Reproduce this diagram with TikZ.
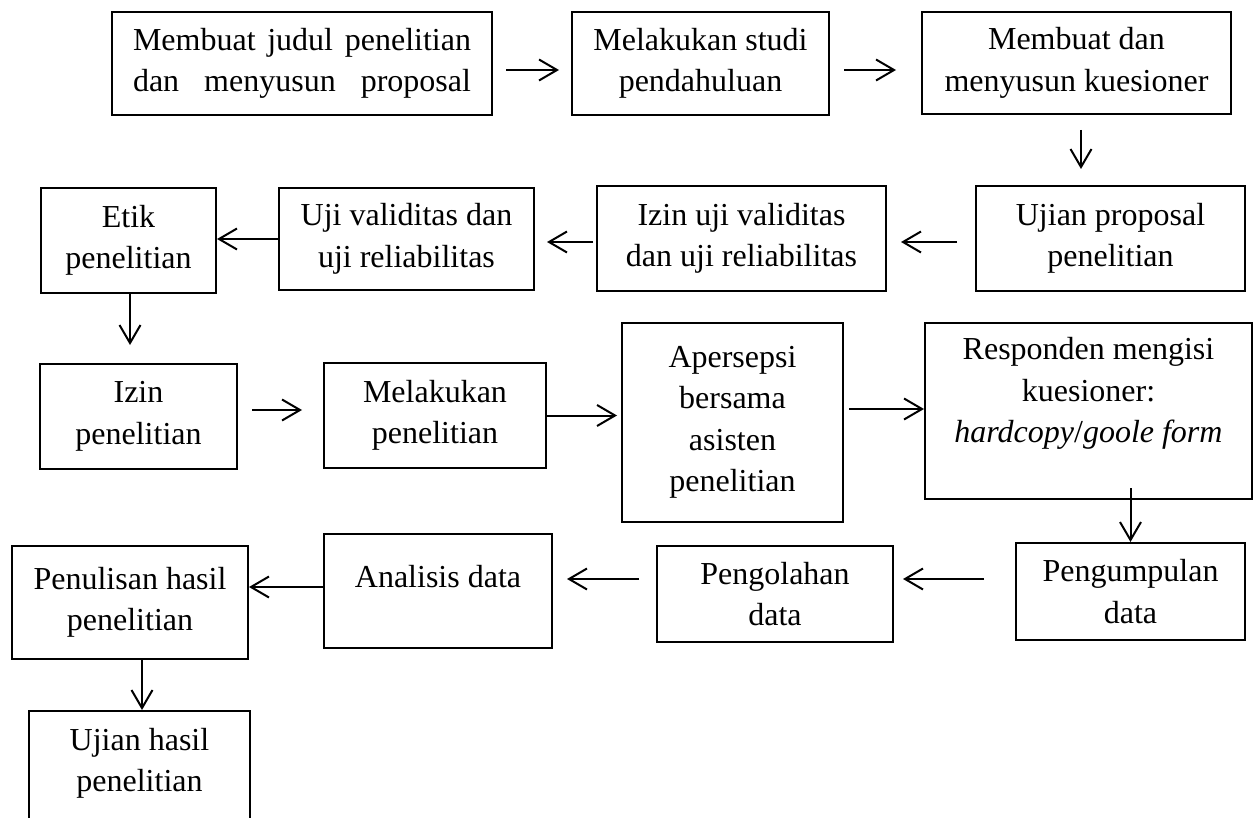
\documentclass[tikz,border=0pt]{standalone}
\usepackage{fontspec}
\setmainfont{Liberation Serif}
\usetikzlibrary{arrows.meta}

\begin{document}
\begin{tikzpicture}[x=0.5pt, y=-0.5pt, auto]
    % Define styles
    \tikzstyle{block} = [rectangle, draw, line width=1pt, inner sep=0pt, align=center, font=\fontsize{16}{20.75}\selectfont]
    \tikzstyle{arrow} = [line width=1pt, ->, >={Straight Barb[length=9pt,width=10.5pt]}]

    % Canvas
    \useasboundingbox (0,0) rectangle (1258,818);
    \clip (0,0) rectangle (1258,818);

    % Nodes
    \node [block, minimum width=190pt, minimum height=51.5pt, text width=169pt] (judul) at (302,63.5) {Membuat\hfill judul\hfill penelitian\\ dan\hfill menyusun\hfill proposal};
    \node [block, minimum width=128.5pt, minimum height=51.5pt] (studi) at (700.5,63.5) {Melakukan studi\\ pendahuluan};
    \node [block, minimum width=154.5pt, minimum height=51pt] (kuesioner) at (1076.5,63) {Membuat dan\\ menyusun kuesioner};
    \node [block, minimum width=134.5pt, minimum height=52.5pt] (ujianprop) at (1110.5,238.5) {Ujian proposal\\ penelitian};
    \node [block, minimum width=144.5pt, minimum height=52.5pt] (izinuji) at (741.5,238.5) {Izin uji validitas\\ dan uji reliabilitas};
    \node [block, minimum width=127.5pt, minimum height=51pt] (ujival) at (406.5,239) {Uji validitas dan\\ uji reliabilitas};
    \node [block, minimum width=87.5pt, minimum height=52.5pt] (etik) at (128.5,240.5) {Etik\\ penelitian};
    \node [block, minimum width=98.5pt, minimum height=52.5pt] (izin) at (138.5,416.5) {Izin\\ penelitian};
    \node [block, minimum width=111pt, minimum height=52.5pt] (lakukan) at (435,415.5) {Melakukan\\ penelitian};
    \node [block, minimum width=110.5pt, minimum height=99.5pt] (apersepsi) at (732.5,422.5) {Apersepsi\\ bersama\\ asisten\\ penelitian};
    \node [block, minimum width=163.5pt, minimum height=88pt] (responden) at (1088.5,411) {Responden mengisi\\ kuesioner:\\ \textit{hardcopy}/\textit{goole form}\\ ~};
    \node [block, minimum width=114.5pt, minimum height=48.5pt] (kumpul) at (1130.5,591.5) {Pengumpulan\\ data};
    \node [block, minimum width=118pt, minimum height=48pt] (olah) at (775,594) {Pengolahan\\ data};
    \node [block, minimum width=114pt, minimum height=57pt] (analisis) at (438,591) {Analisis data\\[-6pt] ~};
    \node [block, minimum width=118pt, minimum height=56.5pt] (tulis) at (130,602.5) {Penulisan hasil\\ penelitian};
    \node [block, minimum width=110.5pt, minimum height=69.5pt] (ujianhasil) at (139.5,780.5) {Ujian hasil\\ penelitian\\ ~};

    % Arrows
    \draw [arrow, shorten <=6.5pt, shorten >=6pt] ([yshift=-3.25pt]judul.east) -- ([yshift=-3.25pt]studi.west);
    \draw [arrow, shorten <=7pt, shorten >=12.5pt] ([yshift=-3.25pt]studi.east) -- ([yshift=-3.25pt]studi.east -| kuesioner.west);
    \draw [arrow, shorten <=7.5pt, shorten >=8pt] ([xshift=2.25pt]kuesioner.south) -- ([xshift=2.25pt]kuesioner.south |- ujianprop.north);
    \draw [arrow, shorten <=9pt, shorten >=7pt] ([yshift=-1.75pt]ujianprop.west) -- ([yshift=-1.75pt]izinuji.east);
    \draw [arrow, shorten <=1.5pt, shorten >=6pt] ([yshift=-1.75pt]izinuji.west) -- ([yshift=-1.75pt]izinuji.west -| ujival.east);
    \draw [arrow] (ujival.west) -- (ujival.west -| etik.east);
    \draw [arrow, shorten >=9pt] ([xshift=0.75pt]etik.south) -- ([xshift=0.75pt]etik.south |- izin.north);
    \draw [arrow, shorten <=7pt, shorten >=10.5pt] ([yshift=3.25pt]izin.east) -- ([yshift=3.25pt]izin.east -| lakukan.west);
    \draw [arrow, shorten >=2pt] (lakukan.east) -- (lakukan.east -| apersepsi.west);
    \draw [arrow, shorten <=2.5pt] ([yshift=6.75pt]apersepsi.east) -- ([yshift=6.75pt]apersepsi.east -| responden.west);
    \draw [arrow, shorten <=-6pt] (responden.south -| kumpul.north) -- (kumpul.north);
    \draw [arrow, shorten <=15.5pt, shorten >=4.5pt] ([yshift=6.25pt]kumpul.west) -- ([yshift=6.25pt]kumpul.west -| olah.east);
    \draw [arrow, shorten <=8.5pt, shorten >=7pt] ([yshift=7.5pt]olah.west) -- ([yshift=7.5pt]olah.west -| analisis.east);
    \draw [arrow] ([yshift=2pt]analisis.west) -- ([yshift=2pt]analisis.west -| tulis.east);
    \draw [arrow] ([xshift=6pt]tulis.south) -- ([xshift=6pt]tulis.south |- ujianhasil.north);

\end{tikzpicture}
\end{document}
